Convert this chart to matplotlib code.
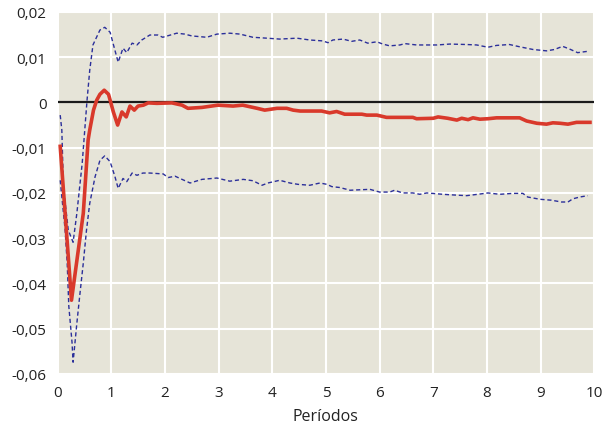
import matplotlib
matplotlib.use("Agg")
import matplotlib.pyplot as plt
from matplotlib.ticker import FuncFormatter

# Impulse response
resp_x = [0.05, 0.26, 0.48, 0.57, 0.60, 0.67, 0.73, 0.79, 0.87, 0.95, 1.04, 1.12,
          1.20, 1.28, 1.35, 1.43, 1.50, 1.60, 1.69, 1.85, 2.13, 2.32, 2.43, 2.69,
          2.99, 3.27, 3.45, 3.72, 3.86, 4.09, 4.27, 4.39, 4.52, 4.92, 5.07, 5.20,
          5.35, 5.67, 5.76, 5.95, 6.13, 6.38, 6.62, 6.69, 7.00, 7.09, 7.27, 7.44,
          7.53, 7.65, 7.74, 7.87, 8.02, 8.18, 8.61, 8.74, 8.93, 9.11, 9.23, 9.36,
          9.51, 9.67, 9.92]
resp_y = [-0.0097, -0.0437, -0.0245, -0.0083, -0.0061, -0.0017, 0.0005, 0.0018, 0.0027,
          0.0018, -0.0021, -0.0050, -0.0021, -0.0032, -0.0008, -0.0017, -0.0008, -0.0006,
          -0.0001, -0.0002, -0.0001, -0.0006, -0.0013, -0.0011, -0.0006, -0.0008, -0.0006,
          -0.0013, -0.0017, -0.0013, -0.0013, -0.0017, -0.0019, -0.0019, -0.0023, -0.0020,
          -0.0026, -0.0026, -0.0028, -0.0028, -0.0033, -0.0033, -0.0033, -0.0036, -0.0035,
          -0.0032, -0.0035, -0.0039, -0.0035, -0.0038, -0.0034, -0.0037, -0.0036, -0.0034,
          -0.0034, -0.0041, -0.0046, -0.0048, -0.0045, -0.0046, -0.0048, -0.0044, -0.0044]

# Upper confidence band
upper_x = [0.05, 0.08, 0.11, 0.20, 0.29, 0.36, 0.46, 0.55, 0.60, 0.66, 0.79, 0.88,
           0.98, 1.07, 1.13, 1.22, 1.29, 1.39, 1.48, 1.57, 1.72, 1.87, 1.96, 2.22,
           2.37, 2.50, 2.78, 2.97, 3.21, 3.40, 3.64, 3.90, 4.14, 4.46, 4.70, 4.94,
           5.04, 5.13, 5.32, 5.48, 5.63, 5.78, 5.95, 6.06, 6.19, 6.38, 6.47, 6.69,
           7.07, 7.31, 7.62, 7.81, 8.02, 8.18, 8.42, 8.61, 8.86, 9.11, 9.26, 9.41,
           9.54, 9.69, 9.88]
upper_y = [-0.0028, -0.0061, -0.0187, -0.0282, -0.0309, -0.0245, -0.0134, 0.0005, 0.0071,
           0.0127, 0.0160, 0.0166, 0.0155, 0.0115, 0.0089, 0.0120, 0.0110, 0.0131, 0.0127,
           0.0138, 0.0149, 0.0149, 0.0144, 0.0153, 0.0151, 0.0147, 0.0144, 0.0151, 0.0153,
           0.0151, 0.0144, 0.0142, 0.0140, 0.0142, 0.0138, 0.0136, 0.0132, 0.0138, 0.0140,
           0.0135, 0.0138, 0.0131, 0.0134, 0.0129, 0.0125, 0.0127, 0.0130, 0.0127, 0.0127,
           0.0129, 0.0128, 0.0127, 0.0122, 0.0126, 0.0128, 0.0123, 0.0117, 0.0114, 0.0117,
           0.0124, 0.0118, 0.0110, 0.0113]

# Lower confidence band
lower_x = [0.05, 0.14, 0.18, 0.21, 0.27, 0.29, 0.36, 0.42, 0.48, 0.54, 0.60, 0.70,
           0.79, 0.88, 0.98, 1.07, 1.13, 1.22, 1.29, 1.39, 1.48, 1.59, 1.72, 1.97,
           2.06, 2.19, 2.32, 2.47, 2.69, 2.97, 3.21, 3.46, 3.64, 3.81, 3.92, 4.14,
           4.33, 4.48, 4.70, 4.89, 5.02, 5.11, 5.26, 5.45, 5.82, 6.00, 6.19, 6.28,
           6.43, 6.62, 6.75, 6.88, 7.18, 7.31, 7.62, 7.83, 8.02, 8.24, 8.48, 8.67,
           8.76, 8.99, 9.20, 9.39, 9.51, 9.60, 9.73, 9.88]
lower_y = [-0.0172, -0.0280, -0.0355, -0.0450, -0.0530, -0.0574, -0.0488, -0.0420, -0.0355,
           -0.0282, -0.0223, -0.0164, -0.0128, -0.0118, -0.0131, -0.0164, -0.0190, -0.0168,
           -0.0175, -0.0156, -0.0161, -0.0156, -0.0156, -0.0158, -0.0166, -0.0163, -0.0170,
           -0.0178, -0.0170, -0.0167, -0.0174, -0.0170, -0.0173, -0.0183, -0.0178, -0.0172,
           -0.0178, -0.0181, -0.0183, -0.0178, -0.0181, -0.0186, -0.0188, -0.0194, -0.0192,
           -0.0198, -0.0198, -0.0194, -0.0200, -0.0200, -0.0203, -0.0200, -0.0203, -0.0204,
           -0.0206, -0.0203, -0.0200, -0.0203, -0.0201, -0.0201, -0.0209, -0.0214, -0.0216,
           -0.0220, -0.0220, -0.0213, -0.0209, -0.0206]

plt.rcParams['font.family'] = ['Open Sans', 'DejaVu Sans']

fig = plt.figure(figsize=(6.12, 4.31), dpi=100)
ax = fig.add_axes([0.094, 0.130, 0.877, 0.840])
ax.set_facecolor('#e6e4d8')

ax.plot(upper_x, upper_y, color='#2b2f9a', lw=1.0, ls=(0, (3, 2)))
ax.plot(lower_x, lower_y, color='#2b2f9a', lw=1.0, ls=(0, (3, 2)))
ax.axhline(0, color='#1a1a1a', lw=1.6, zorder=3)
ax.plot(resp_x, resp_y, color='#d9392b', lw=2.6, zorder=4)

ax.set_xlim(0, 10)
ax.set_ylim(-0.06, 0.02)
ax.set_xticks(range(0, 11))
ax.set_yticks([0.02, 0.01, 0, -0.01, -0.02, -0.03, -0.04, -0.05, -0.06])

def fmt(v, pos):
    if abs(v) < 1e-9:
        return '0'
    return f'{v:.2f}'.replace('.', ',')

ax.yaxis.set_major_formatter(FuncFormatter(fmt))
ax.grid(True, color='white', lw=1.5)
ax.set_axisbelow(True)
for s in ax.spines.values():
    s.set_visible(False)
ax.tick_params(length=0, labelsize=11, colors='#222222', pad=8)
ax.set_xlabel('Períodos', fontsize=11.5, color='#222222', labelpad=6)

fig.savefig('out.png', dpi=100)
